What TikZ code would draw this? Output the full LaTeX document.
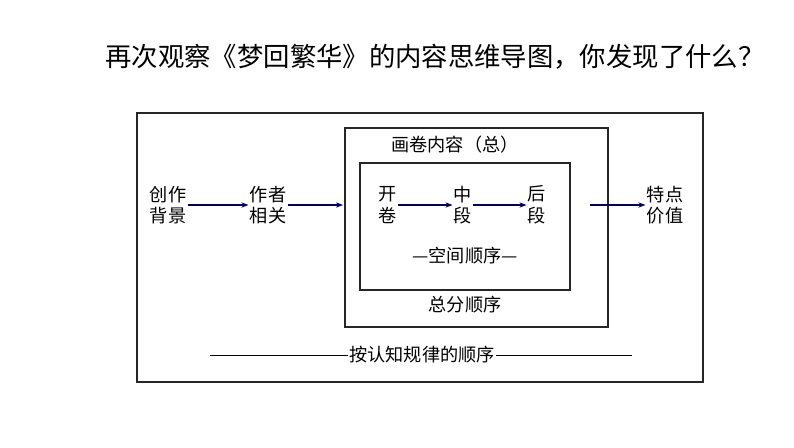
\documentclass[tikz,border=0pt]{standalone}
\usepackage{fontspec}
\setmainfont{Noto Sans CJK SC}
\usetikzlibrary{arrows.meta}
\begin{document}
\begin{tikzpicture}[x=0.03cm,y=-0.03cm,
  box/.style={draw=black!85,line width=1.3pt},
  lbl/.style={font=\fontsize{15.5}{18.5}\selectfont,align=center,inner sep=1pt},
  arr/.style={-{Stealth[length=6pt]},draw=blue!40!black,line width=0.9pt}]
\useasboundingbox (0,0) rectangle (794,447);
\node[font=\fontsize{22.5}{26}\selectfont] (title) at (435,57) {再次观察《梦回繁华》的内容思维导图，你发现了什么？};
\draw[box] (137,113) rectangle (703,382);
\draw[box] (345,128) rectangle (608,327);
\draw[box] (360,163) rectangle (570,290);
\node[lbl] (zong) at (455,145) {画卷内容（总）};
\node[lbl] (a) at (168,205) {创作\\背景};
\node[lbl] (b) at (268,205) {作者\\相关};
\node[lbl] (c) at (388,205) {开\\卷};
\node[lbl] (d) at (463,205) {中\\段};
\node[lbl] (e) at (537,205) {后\\段};
\node[lbl] (f) at (665,205) {特点\\价值};
\draw[arr] (a) -- (b);
\draw[arr] (b.east) -- (343,205);
\draw[arr] (c) -- (d);
\draw[arr] (d) -- (e);
\draw[arr] (590,205) -- (f);
\node[lbl] (kj) at (465,256) {—空间顺序—};
\node[lbl] (zf) at (465,305) {总分顺序};
\node[lbl] (rz) at (422,355) {按认知规律的顺序};
\coordinate (l1) at (210,355);
\coordinate (r1) at (632,355);
\draw[line width=0.8pt] (l1) -- (rz.west);
\draw[line width=0.8pt] (rz.east) -- (r1);
\end{tikzpicture}
\end{document}
